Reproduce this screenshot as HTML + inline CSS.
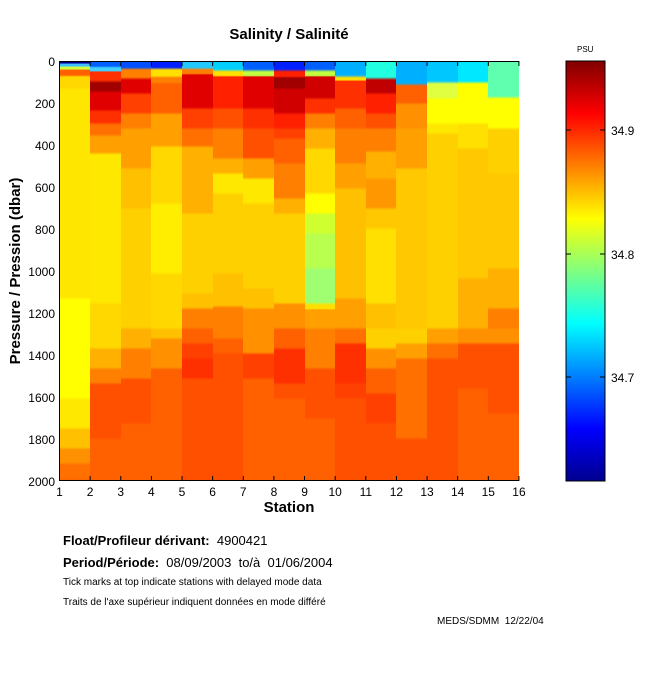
<!DOCTYPE html>
<html><head><meta charset="utf-8"><style>
body{margin:0;background:#fff;width:650px;height:680px;position:relative;overflow:hidden;font-family:"Liberation Sans",sans-serif;color:#000}
.c{position:absolute;top:61px;height:420px}
.t{position:absolute;white-space:nowrap}
</style></head><body>
<div id="cols"></div>
<svg width="650" height="680" style="position:absolute;left:0;top:0">
<defs><linearGradient id="jet" x1="0" y1="1" x2="0" y2="0">
<stop offset="0" stop-color="#00008f"/><stop offset="0.125" stop-color="#0000ff"/><stop offset="0.375" stop-color="#00ffff"/><stop offset="0.625" stop-color="#ffff00"/><stop offset="0.875" stop-color="#ff0000"/><stop offset="1" stop-color="#800000"/></linearGradient></defs>
<rect x="566" y="61" width="39" height="420" fill="url(#jet)" stroke="#000" stroke-width="1"/>
<g stroke="#000" stroke-width="1">
<line x1="605" y1="130" x2="600" y2="130"/><line x1="566" y1="130" x2="571" y2="130"/>
<line x1="605" y1="254" x2="600" y2="254"/><line x1="566" y1="254" x2="571" y2="254"/>
<line x1="605" y1="377" x2="600" y2="377"/><line x1="566" y1="377" x2="571" y2="377"/>
<line x1="59.5" y1="61" x2="59.5" y2="481"/>
<line x1="59.5" y1="480.5" x2="519" y2="480.5"/>
<line x1="59.5" y1="61.5" x2="519" y2="61.5"/>
</g>
<g id="ticks" stroke="#000" stroke-width="1"></g>
<g font-size="12" text-anchor="end" font-family="Liberation Sans">
<text x="55" y="66">0</text><text x="55" y="108">200</text><text x="55" y="150">400</text><text x="55" y="192">600</text><text x="55" y="234">800</text><text x="55" y="276">1000</text><text x="55" y="318">1200</text><text x="55" y="360">1400</text><text x="55" y="402">1600</text><text x="55" y="444">1800</text><text x="55" y="486">2000</text>
</g>
<g id="xl" font-size="12" text-anchor="middle" font-family="Liberation Sans"></g>
<g font-size="12" font-family="Liberation Sans"><text x="611" y="135">34.9</text><text x="611" y="259">34.8</text><text x="611" y="382">34.7</text>
<text x="577" y="52" font-size="8">PSU</text></g>
<text x="289" y="39" font-size="15" font-weight="bold" text-anchor="middle" font-family="Liberation Sans">Salinity / Salinité</text>
<text x="289" y="512" font-size="15" font-weight="bold" text-anchor="middle" font-family="Liberation Sans">Station</text>
<text transform="translate(20,271) rotate(-90)" font-size="15" font-weight="bold" text-anchor="middle" font-family="Liberation Sans">Pressure / Pression (dbar)</text>
</svg>
<div class="t" style="left:63px;top:533px;font-size:13px"><b>Float/Profileur dérivant:</b> &nbsp;4900421</div>
<div class="t" style="left:63px;top:555px;font-size:13px"><b>Period/Période:</b> &nbsp;08/09/2003 &nbsp;to/à &nbsp;01/06/2004</div>
<div class="t" style="left:63px;top:577px;font-size:10px">Tick marks at top indicate stations with delayed mode data</div>
<div class="t" style="left:63px;top:597px;font-size:10px">Traits de l'axe supérieur indiquent données en mode différé</div>
<div class="t" style="left:437px;top:616px;font-size:10px">MEDS/SDMM &nbsp;12/22/04</div>
<script>
var X=i=>59.5+(i-1)*30.63;
var cols=[
[[61,"#000090"],[64,"#40c0ff"],[67,"#d0ff40"],[70,"#ff6000"],[77,"#ffd800"],[90,"#ffe600"],[300,"#ffff00"],[400,"#ffe800"],[430,"#ffc000"],[450,"#ff9000"],[465,"#ff7000"],[481,"#ff6000"]],
[[61,"#0060ff"],[68,"#40d0ff"],[72,"#ff3000"],[83,"#a00000"],[93,"#e00000"],[112,"#ff3000"],[125,"#ff7000"],[137,"#ffa000"],[155,"#ffe800"],[305,"#ffd800"],[350,"#ffb000"],[370,"#ff8000"],[385,"#ff5000"],[440,"#ff6000"],[481,"#ff6000"]],
[[61,"#0050ff"],[70,"#ff8000"],[80,"#e00000"],[95,"#ff4000"],[115,"#ff8000"],[130,"#ffa000"],[170,"#ffc000"],[210,"#ffd000"],[330,"#ffb000"],[350,"#ff8000"],[380,"#ff5000"],[425,"#ff6000"],[481,"#ff6000"]],
[[61,"#0020ff"],[70,"#ffe000"],[78,"#ff8000"],[84,"#ff6000"],[115,"#ffa000"],[148,"#ffd800"],[205,"#ffee00"],[275,"#ffd800"],[330,"#ffc000"],[340,"#ff9000"],[370,"#ff6000"],[481,"#ff6000"]],
[[61,"#20c8ff"],[70,"#ff8000"],[75,"#e00000"],[110,"#ff4000"],[130,"#ff7000"],[148,"#ffb000"],[215,"#ffd000"],[295,"#ffc000"],[310,"#ff8000"],[330,"#ff6000"],[345,"#ff4000"],[360,"#ff3000"],[380,"#ff5000"],[481,"#ff5000"]],
[[61,"#00d0ff"],[72,"#ffe000"],[77,"#ff2000"],[110,"#ff5000"],[130,"#ff8000"],[160,"#ffb000"],[175,"#ffe800"],[195,"#ffd000"],[275,"#ffc000"],[308,"#ff8000"],[340,"#ff6000"],[355,"#ff5000"],[481,"#ff5000"]],
[[61,"#0060ff"],[72,"#c0ff40"],[77,"#e00000"],[110,"#ff3000"],[130,"#ff5000"],[160,"#ffa000"],[180,"#ffe800"],[205,"#ffd000"],[290,"#ffc000"],[310,"#ff9000"],[355,"#ff4000"],[380,"#ff6000"],[481,"#ff6000"]],
[[61,"#0020ff"],[72,"#ff2000"],[78,"#a00000"],[90,"#d00000"],[115,"#ff2000"],[130,"#ff4000"],[140,"#ff6000"],[165,"#ff8000"],[200,"#ffb000"],[215,"#ffd000"],[305,"#ff9000"],[330,"#ff6000"],[350,"#ff3000"],[385,"#ff5000"],[400,"#ff6000"],[481,"#ff6000"]],
[[61,"#0060ff"],[72,"#c0ff40"],[77,"#d00000"],[100,"#ff3000"],[115,"#ff8000"],[130,"#ffb000"],[150,"#ffd800"],[195,"#ffff00"],[215,"#d0ff30"],[235,"#b8ff50"],[270,"#a0ff70"],[305,"#ffe000"],[310,"#ffa000"],[330,"#ff8000"],[370,"#ff5000"],[420,"#ff6000"],[481,"#ff6000"]],
[[61,"#00b0ff"],[78,"#ffe000"],[81,"#ff3000"],[110,"#ff6000"],[130,"#ff8000"],[165,"#ffa000"],[190,"#ffc000"],[300,"#ffa000"],[330,"#ff7000"],[345,"#ff3000"],[385,"#ff4000"],[400,"#ff5000"],[481,"#ff5000"]],
[[61,"#20ffe0"],[80,"#c00000"],[95,"#ff2000"],[115,"#ff5000"],[130,"#ff8000"],[153,"#ffb000"],[180,"#ff9800"],[210,"#ffc800"],[230,"#ffe000"],[305,"#ffc000"],[330,"#ffd000"],[350,"#ff9000"],[370,"#ff6000"],[395,"#ff4000"],[425,"#ff5000"],[481,"#ff5000"]],
[[61,"#00b0ff"],[86,"#ff6000"],[105,"#ff9000"],[130,"#ffa000"],[170,"#ffc800"],[330,"#ffd000"],[345,"#ffa000"],[360,"#ff7000"],[440,"#ff5000"],[481,"#ff5000"]],
[[61,"#00c8ff"],[84,"#e0ff40"],[100,"#ffff00"],[125,"#ffe800"],[135,"#ffd000"],[330,"#ffa000"],[345,"#ff7000"],[360,"#ff5000"],[481,"#ff5000"]],
[[61,"#00e8ff"],[84,"#ffff00"],[125,"#ffe000"],[150,"#ffc800"],[280,"#ffb000"],[330,"#ff9000"],[345,"#ff5000"],[390,"#ff6000"],[481,"#ff6000"]],
[[61,"#60ffb0"],[99,"#ffff00"],[130,"#ffd000"],[175,"#ffc800"],[270,"#ffb000"],[310,"#ff8000"],[330,"#ff9000"],[345,"#ff5000"],[415,"#ff6000"],[481,"#ff6000"]]
];
var h="";
cols.forEach((c,i)=>{
 var s=[];
 for(var k=0;k<c.length;k++){
  var y=c[k][0]-61;s.push(c[k][1]+" "+y+"px");
  if(k<c.length-1){var g=c[k+1][0]-c[k][0];var hold=c[k+1][0]-61-Math.min(3,g*0.3);s.push(c[k][1]+" "+hold+"px");}
 }
 var x0=X(i+1),x1=X(i+2);
 h+='<div class="c" style="left:'+x0+'px;width:'+(x1-x0+0.5)+'px;background:linear-gradient(to bottom,'+s.join(",")+')"></div>';
});
document.getElementById("cols").innerHTML=h;
var t="",l="";
for(var i=1;i<=16;i++){var x=X(i);t+='<line x1="'+x+'" y1="61" x2="'+x+'" y2="66"/><line x1="'+x+'" y1="481" x2="'+x+'" y2="476"/>';l+='<text x="'+x+'" y="496">'+i+'</text>';}
document.getElementById("ticks").innerHTML=t;document.getElementById("xl").innerHTML=l;
</script>
</body></html>
